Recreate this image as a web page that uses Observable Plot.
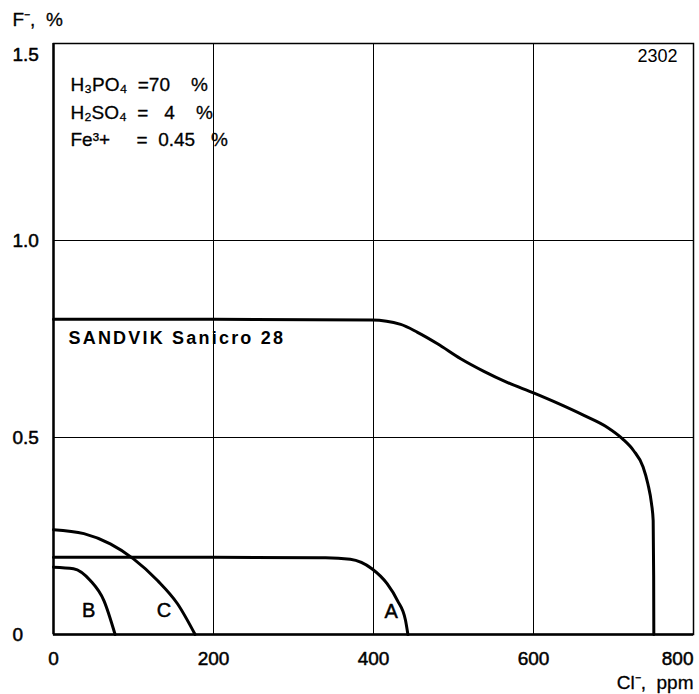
<!DOCTYPE html>
<html><head><meta charset="utf-8">
<script src="https://cdn.jsdelivr.net/npm/d3@7"></script>
<script src="https://cdn.jsdelivr.net/npm/@observablehq/plot@0.6"></script>
<style>body{margin:0;background:#fff} svg{display:block}</style>
</head><body><div id="chart"></div>
<script>
// ---- data ----
const xTicks = [0, 200, 400, 600, 800];
const yTicks = [0, 0.5, 1.0, 1.5];
const yTickLabels = ["0", "0.5", "1.0", "1.5"];
const xGrid = [200, 400, 600];
const yGrid = [0.5, 1.0];

const sandvikX = [0, 200, 398, 434, 455, 480, 509, 538, 567, 600, 630, 663, 692, 711, 725, 737, 743, 747.5, 749.6, 750.2, 750.4];
const sandvikY = [0.8, 0.8, 0.798, 0.787, 0.767, 0.738, 0.700, 0.668, 0.640, 0.613, 0.587, 0.556, 0.526, 0.497, 0.467, 0.425, 0.382, 0.332, 0.289, 0.15, 0];

const curveAX = [0, 200, 340, 371, 398, 417, 430, 440, 443];
const curveAY = [0.196, 0.196, 0.195, 0.191, 0.167, 0.129, 0.086, 0.036, 0];

const curveBX = [0, 25, 46, 63, 77];
const curveBY = [0.171, 0.167, 0.137, 0.086, 0];

const curveCX = [0, 38, 71, 100, 130, 155, 177];
const curveCY = [0.266, 0.256, 0.230, 0.192, 0.137, 0.078, 0];

const curveLabels = ["A", "B", "C"];
const curveLabelX = [422, 44, 138];
const curveLabelY = [0.057, 0.061, 0.061];

const conditionLines = [
  "H₃PO₄ \u00a0=70\u00a0\u00a0\u00a0\u00a0%",
  "H₂SO₄ \u00a0=\u00a0\u00a0\u00a04\u00a0\u00a0\u00a0\u00a0%",
  "Fe³+\u00a0\u00a0\u00a0\u00a0\u00a0=\u00a0\u00a00.45\u00a0\u00a0\u00a0%"
];
const alloyName = "SANDVIK Sanicro 28";
const figureNumber = "2302";
const xLabel = "Cl⁻,\u00a0\u00a0ppm";
const yLabel = "F⁻,\u00a0\u00a0%";

// ---- chart ----
const font = "'Liberation Sans', Arial, Helvetica, sans-serif";
const pts = (xs, ys) => xs.map((x, i) => ({x, y: ys[i]}));
const black = "#000";
const heavy = {fill: black, stroke: black, strokeWidth: 0.5};

const plot = Plot.plot({
  width: 699, height: 694,
  marginLeft: 53, marginRight: 6, marginTop: 43, marginBottom: 60,
  x: {domain: [0, 800], axis: null},
  y: {domain: [0, 1.5], axis: null},
  style: {fontFamily: font, fontSize: "18px", color: black, background: "#fff", overflow: "visible"},
  marks: [
    Plot.ruleX(xGrid, {stroke: black, strokeWidth: 1}),
    Plot.ruleY(yGrid, {stroke: black, strokeWidth: 1}),
    Plot.frame({stroke: black, strokeWidth: 1.5}),
    Plot.ruleX([0], {stroke: black, strokeWidth: 2.4}),
    Plot.ruleY([0], {stroke: black, strokeWidth: 2.4}),
    Plot.line(pts(sandvikX, sandvikY), {x: "x", y: "y", stroke: black, strokeWidth: 3, curve: "monotone-x"}),
    Plot.line(pts(curveAX, curveAY), {x: "x", y: "y", stroke: black, strokeWidth: 3, curve: "monotone-x"}),
    Plot.line(pts(curveBX, curveBY), {x: "x", y: "y", stroke: black, strokeWidth: 3, curve: "monotone-x"}),
    Plot.line(pts(curveCX, curveCY), {x: "x", y: "y", stroke: black, strokeWidth: 3, curve: "monotone-x"}),
    Plot.text(curveLabels.map((t, i) => ({t, x: curveLabelX[i], y: curveLabelY[i]})),
      {x: "x", y: "y", text: "t", fontSize: 20, ...heavy}),
    // tick labels
    Plot.text(xTicks.slice(0, -1), {x: d => d, frameAnchor: "bottom", dy: 24, lineAnchor: "middle", text: d => String(d), fontSize: 19, ...heavy}),
    Plot.text(xTicks.slice(-1), {x: d => d, frameAnchor: "bottom", dy: 24, lineAnchor: "middle", textAnchor: "end", text: d => String(d), fontSize: 19, ...heavy}),
    Plot.text(yTicks.slice(0, -1), {y: d => d, frameAnchor: "left", dx: -41, textAnchor: "start", lineAnchor: "middle", text: (d, i) => yTickLabels[i], fontSize: 19, ...heavy}),
    Plot.text(yTicks.slice(-1), {y: d => d, frameAnchor: "left", dx: -41, dy: 11, textAnchor: "start", lineAnchor: "middle", text: d => yTickLabels[yTicks.indexOf(d)], fontSize: 19, ...heavy}),
    // axis titles
    Plot.text([yLabel], {frameAnchor: "top-left", dx: -41, dy: -24, textAnchor: "start", lineAnchor: "middle", text: d => d, fontSize: 19, fill: black, stroke: black, strokeWidth: 0.3}),
    Plot.text([xLabel], {frameAnchor: "bottom-right", dy: 48, textAnchor: "end", lineAnchor: "middle", text: d => d, fontSize: 19, fill: black, stroke: black, strokeWidth: 0.3}),
    // annotations
    Plot.text([figureNumber], {frameAnchor: "top-right", dx: -16, dy: 13, textAnchor: "end", lineAnchor: "middle", text: d => d, fontSize: 18, fill: black}),
    Plot.text([conditionLines.join("\n")], {frameAnchor: "top-left", dx: 17, dy: 66.5, textAnchor: "start", lineAnchor: "middle", lineHeight: 1.45, text: d => d, fontSize: 19, fill: black, stroke: black, strokeWidth: 0.3}),
    Plot.text([alloyName], {x: 0, y: 0.8, dx: 15, dy: 19, textAnchor: "start", lineAnchor: "middle", text: d => d, fontSize: 18, fontWeight: "bold", fill: black})
  ]
});
document.getElementById("chart").appendChild(plot);
// widen the alloy label slightly, as in the printed original
d3.select(plot).selectAll("text").filter(function() { return this.textContent === alloyName; }).attr("letter-spacing", "2.2px");
</script>
</body></html>
